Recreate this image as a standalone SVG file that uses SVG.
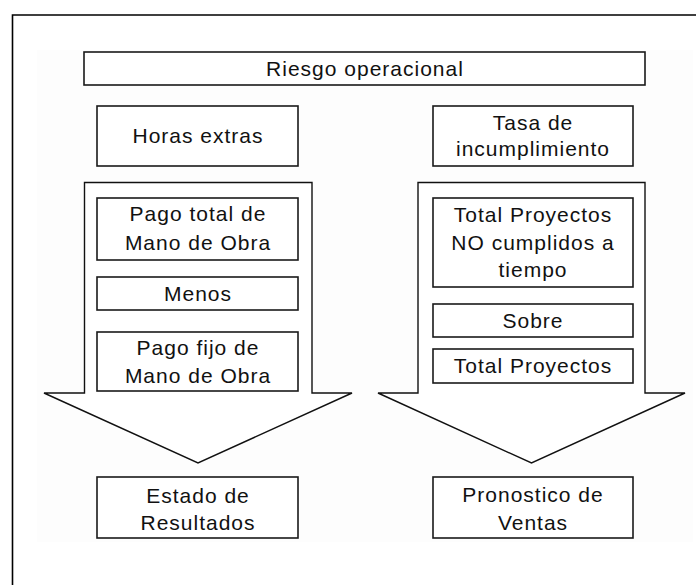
<svg xmlns="http://www.w3.org/2000/svg" width="696" height="585" viewBox="0 0 696 585">
<style>
.frame{fill:none;stroke:#000;stroke-width:1.6}
.box{fill:#fff;stroke:#1a1a1a;stroke-width:1.6}
.arrow{fill:#fff;stroke:#111;stroke-width:1.4;stroke-linejoin:miter}
text{font-family:"Liberation Sans",Arial,sans-serif;font-size:21px;fill:#111;text-anchor:middle;letter-spacing:1px}
</style>
<rect x="0" y="0" width="696" height="585" fill="#fff"/>
<rect x="37" y="50" width="656" height="492" fill="#fdfdfd"/>
<path class="frame" d="M12.5,585 L12.5,15 L696,15"/>
<g id="connectors">
  <path id="arrow-left" class="arrow" d="M44,393 L84.5,393 L84.5,182.5 L312,182.5 L312,393 L352,393 L198,463 Z"/>
  <path id="arrow-right" class="arrow" d="M378,393 L418,393 L418,182.5 L645,182.5 L645,393 L685,393 L531.5,463 Z"/>
</g>
<g id="riesgo">
  <rect class="box" x="84" y="52" width="561" height="33"/>
  <text x="365" y="76">Riesgo operacional</text>
</g>
<g id="horas">
  <rect class="box" x="97" y="106" width="201" height="60"/>
  <text x="198" y="143">Horas extras</text>
</g>
<g id="tasa">
  <rect class="box" x="433" y="106" width="200" height="60"/>
  <text x="533" y="130">Tasa de</text>
  <text x="533" y="156">incumplimiento</text>
</g>
<g id="pago-total">
  <rect class="box" x="97" y="198" width="201" height="62"/>
  <text x="198" y="221">Pago total de</text>
  <text x="198" y="250">Mano de Obra</text>
</g>
<g id="menos">
  <rect class="box" x="97" y="277" width="201" height="33"/>
  <text x="198" y="301">Menos</text>
</g>
<g id="pago-fijo">
  <rect class="box" x="97" y="332" width="201" height="59"/>
  <text x="198" y="355">Pago fijo de</text>
  <text x="198" y="383">Mano de Obra</text>
</g>
<g id="no-cumplidos">
  <rect class="box" x="433" y="198" width="200" height="89"/>
  <text x="533" y="222">Total Proyectos</text>
  <text x="533" y="250">NO cumplidos a</text>
  <text x="533" y="277">tiempo</text>
</g>
<g id="sobre">
  <rect class="box" x="433" y="304" width="200" height="33"/>
  <text x="533" y="328">Sobre</text>
</g>
<g id="total-proyectos">
  <rect class="box" x="433" y="349" width="200" height="34"/>
  <text x="533" y="373">Total Proyectos</text>
</g>
<g id="estado">
  <rect class="box" x="97" y="477" width="201" height="61"/>
  <text x="198" y="503">Estado de</text>
  <text x="198" y="530">Resultados</text>
</g>
<g id="pronostico">
  <rect class="box" x="433" y="477" width="200" height="61"/>
  <text x="533" y="502">Pronostico de</text>
  <text x="533" y="530">Ventas</text>
</g>
</svg>
